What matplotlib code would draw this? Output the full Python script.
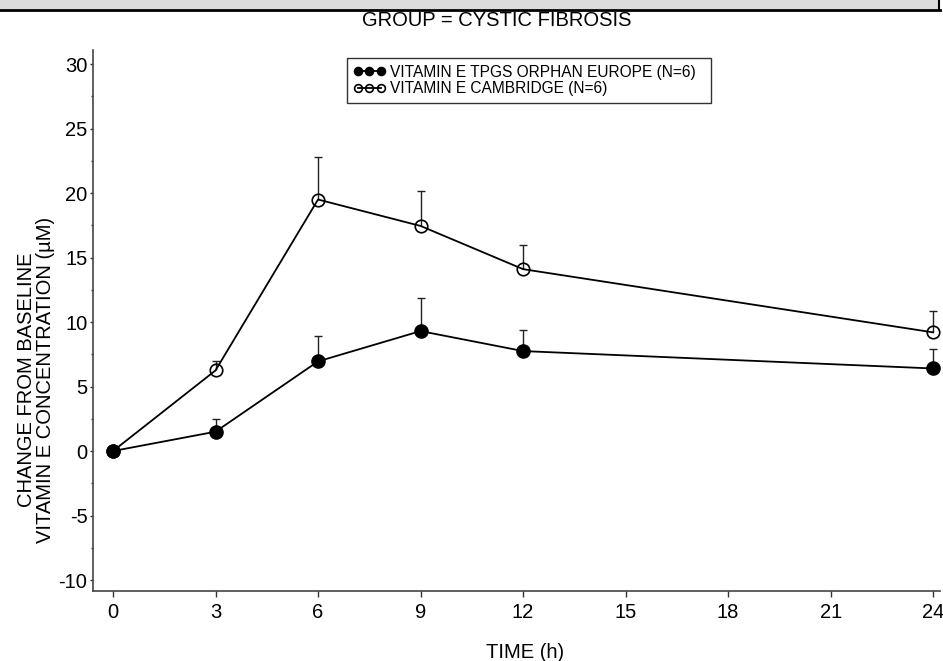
import matplotlib
matplotlib.use("Agg")
import matplotlib.pyplot as plt
from matplotlib.patches import Rectangle
from matplotlib.lines import Line2D
import numpy as np

plt.rcParams['font.family'] = ['Liberation Sans', 'DejaVu Sans']

time_h = [0, 3, 6, 9, 12, 24]
tpgs_mean = [0.0, 1.5, 6.95, 9.3, 7.75, 6.4]
tpgs_sd = [0.0, 0.95, 1.95, 2.55, 1.62, 1.5]
camb_mean = [0.0, 6.25, 19.5, 17.45, 14.1, 9.2]
camb_sd = [0.0, 0.75, 3.3, 2.72, 1.87, 1.63]
xticks = [0, 3, 6, 9, 12, 15, 18, 21, 24]
yticks = [-10, -5, 0, 5, 10, 15, 20, 25, 30]

W, H = 943, 661
fig = plt.figure(figsize=(W / 100, H / 100), dpi=100)
ax = fig.add_axes([93 / W, 1 - 591 / H, (940 - 93) / W, (591 - 50) / H])

# top banner
fig.add_artist(Rectangle((0, 1 - 9 / H), 938 / W, 9 / H, transform=fig.transFigure,
                         facecolor='#dcdcdc', edgecolor='none'))
fig.add_artist(Line2D([0, 940 / W], [1 - 9.5 / H, 1 - 9.5 / H], transform=fig.transFigure,
                      color='black', lw=2.0))
fig.add_artist(Line2D([938.5 / W, 938.5 / W], [1, 1 - 10 / H], transform=fig.transFigure,
                      color='black', lw=1.5))

# error bars (upper only)
for m, s in ((tpgs_mean, tpgs_sd), (camb_mean, camb_sd)):
    m = np.array(m); s = np.array(s)
    tops = m + s
    mask = s > 0
    ax.vlines(np.array(time_h)[mask], m[mask], tops[mask], color='#222222', lw=1.0, zorder=2)
    ax.plot(np.array(time_h)[mask], tops[mask], linestyle='none', marker='_',
            markersize=6, markeredgewidth=1.0, color='#222222', zorder=2)

ax.plot(time_h, tpgs_mean, color='black', lw=1.3, marker='o', markersize=9.5,
        markerfacecolor='black', markeredgecolor='black', zorder=3,
        label='VITAMIN E TPGS ORPHAN EUROPE (N=6)')
ax.plot(time_h, camb_mean, color='black', lw=1.3, marker='o', markersize=9,
        markerfacecolor='none', markeredgecolor='black', markeredgewidth=1.2, zorder=3,
        label='VITAMIN E CAMBRIDGE (N=6)')

ax.set_xlim(-0.585, 24.2)
ax.set_ylim(-10.85, 31.09)
ax.set_xticks(xticks)
ax.set_yticks(yticks)
ax.set_yticks(np.arange(-10, 31, 2.5), minor=True)
ax.set_xticklabels([str(v) for v in xticks])
ax.set_yticklabels([str(v) for v in yticks])
ax.tick_params(axis='x', which='major', direction='out', length=4.5, width=1,
               labelsize=14.5, color='#333333', pad=4)
ax.tick_params(axis='y', which='major', direction='out', length=2.5, width=1,
               labelsize=14.5, color='#333333', pad=1.5)
ax.tick_params(axis='y', which='minor', direction='out', length=1.5, width=1, color='#333333')
for sp in ('top', 'right'):
    ax.spines[sp].set_visible(False)
for sp in ('left', 'bottom'):
    ax.spines[sp].set_linewidth(1.2)
    ax.spines[sp].set_color('#444444')

ax.set_xlabel('TIME (h)', fontsize=14.5)
ax.xaxis.set_label_coords((525 - 93) / (940 - 93), 1 - (652 - 50) / (591 - 50))
ax.xaxis.label.set_va('center')
ax.set_ylabel('CHANGE FROM BASELINE\nVITAMIN E CONCENTRATION (µM)', fontsize=14.5,
              linespacing=1.0)
ax.yaxis.set_label_coords((36 - 93) / (940 - 93), 1 - (380 - 50) / (591 - 50))
ax.yaxis.label.set_va('center')
fig.text(497 / W, 1 - 20 / H, 'GROUP = CYSTIC FIBROSIS', ha='center', va='center', fontsize=14.5)

x0 = (347 - 93) / (940 - 93)
wl = (711 - 347) / (940 - 93)
y1 = (591 - 58) / (591 - 50)
leg = ax.legend(loc='upper left', bbox_to_anchor=(x0, y1 - 0.1, wl, 0.1), mode='expand',
                fontsize=11.2, numpoints=3, handlelength=2.05, handletextpad=0.3,
                borderpad=0.42, labelspacing=0.12, borderaxespad=0,
                frameon=True, fancybox=False, edgecolor='black', markerscale=0.62)
leg.get_frame().set_linewidth(1.0)

fig.savefig('out.png', dpi=100)
